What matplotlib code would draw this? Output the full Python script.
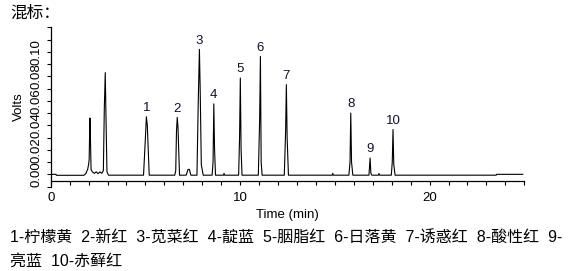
import matplotlib
matplotlib.use("Agg")
import matplotlib.pyplot as plt
from matplotlib.ticker import MultipleLocator, FixedLocator

plt.rcParams['font.family'] = ['Liberation Sans', 'Noto Sans CJK SC', 'DejaVu Sans']

# Chromatogram trace (time in min, signal in volts)
time_min = [0.0, 0.28, 0.30, 1.75, 1.85, 1.95, 2.00, 2.03, 2.07, 2.10, 2.13, 2.20, 2.30, 2.40,
            2.50, 2.60, 2.70, 2.78, 2.83, 2.88, 2.92, 2.97, 3.05,
            4.90, 5.00, 5.05, 5.10, 5.20,
            6.55, 6.60, 6.64, 6.68, 6.72, 6.80,
            7.15, 7.25, 7.32, 7.40,
            7.72, 7.79, 7.85, 7.89, 7.95, 8.05,
            8.52, 8.57, 8.61, 8.65, 8.70,
            9.12, 9.15, 9.18,
            9.92, 9.97, 10.01, 10.05, 10.10,
            10.96, 11.03, 11.07, 11.11, 11.16,
            12.33, 12.40, 12.44, 12.48, 12.55,
            14.86, 14.89, 14.92,
            15.74, 15.80, 15.84, 15.88, 15.95,
            16.80, 16.86, 16.90, 16.95,
            17.30, 17.33, 17.36,
            17.98, 18.03, 18.07, 18.11, 18.18,
            23.52, 23.53, 24.92]
volts = [0.0, 0.0, -0.0008, -0.0008, 0.0005, 0.004, 0.008, 0.012, 0.046, 0.028, 0.004, 0.002, 0.0008, 0.002,
         0.0006, 0.002, 0.0008, 0.003, 0.054, 0.083, 0.045, 0.002, -0.0007,
         -0.0007, 0.030, 0.047, 0.040, -0.0007,
         -0.0007, 0.003, 0.035, 0.0465, 0.038, -0.0007,
         -0.0007, 0.004, 0.004, -0.0007,
         -0.0007, 0.060, 0.102, 0.070, 0.008, -0.0007,
         -0.0007, 0.010, 0.0575, 0.020, -0.0007,
         -0.0007, 0.0008, -0.0007,
         -0.0007, 0.030, 0.0786, 0.020, -0.0007,
         -0.0007, 0.045, 0.0962, 0.010, -0.0007,
         -0.0007, 0.035, 0.0732, 0.030, -0.0007,
         -0.0007, 0.0008, -0.0007,
         -0.0007, 0.010, 0.050, 0.010, -0.0007,
         -0.0007, 0.0133, 0.001, -0.0007,
         -0.0007, 0.0007, -0.0007,
         -0.0007, 0.010, 0.0366, 0.008, -0.0007,
         -0.0007, 0.0, 0.0]

# Labelled peaks
peak_labels = ['1', '2', '3', '4', '5', '6', '7', '8', '9', '10']
peak_times = [5.05, 6.68, 7.85, 8.61, 10.01, 11.07, 12.44, 15.84, 16.86, 18.07]
peak_heights = [0.047, 0.0465, 0.102, 0.0575, 0.0786, 0.0962, 0.0732, 0.050, 0.0133, 0.0366]

y_ticks = [0.00, 0.02, 0.04, 0.06, 0.08, 0.10]
y_tick_labels = ['0.00', '0.02', '0.04', '0.06', '0.08', '0.10']
x_ticks = [0, 10, 20]
x_tick_labels = ['0', '10', '20']

title_text = '混标：'
caption_line1 = '1-柠檬黄  2-新红  3-苋菜红  4-靛蓝  5-胭脂红  6-日落黄  7-诱惑红  8-酸性红  9-'
caption_line2 = '亮蓝  10-赤藓红'

W, H = 574, 271
fig = plt.figure(figsize=(W / 100, H / 100), dpi=100)
left, right, top, bottom = 50.7, 524.3, 27.3, 186.7
ax = fig.add_axes([left / W, 1 - bottom / H, (right - left) / W, (bottom - top) / H])

ax.plot(time_min, volts, color='black', lw=0.8)

ax.set_xlim(0, 25)
ax.set_ylim(-0.0101, 0.12)

for s in ['top', 'right']:
    ax.spines[s].set_visible(False)
ax.spines['bottom'].set_position(('data', -0.0052))
for s in ['left', 'bottom']:
    ax.spines[s].set_linewidth(0.9)
    ax.spines[s].set_color('black')

ax.xaxis.set_major_locator(FixedLocator(x_ticks))
ax.set_xticklabels(x_tick_labels)
ax.xaxis.set_minor_locator(MultipleLocator(1))
ax.tick_params(axis='x', which='both', direction='out', length=3.0, width=0.8,
               labelsize=9.5, pad=5)

ax.yaxis.set_minor_locator(MultipleLocator(0.01))
ax.set_yticks(y_ticks)
ax.set_yticklabels(y_tick_labels, rotation=90, va='center')
ax.tick_params(axis='y', which='both', direction='out', length=2.8, width=0.8,
               labelsize=9.5, pad=3)

ax.set_xlabel('Time (min)', fontsize=9.5, labelpad=4)
ax.set_ylabel('Volts', fontsize=9.5, labelpad=4)

for lab, t, h in zip(peak_labels, peak_times, peak_heights):
    ax.annotate(lab, (t, h), xytext=(0, 2), textcoords='offset points',
                ha='center', va='bottom', fontsize=9.5, color='#10102a')

fig.text(10 / W, 1 - 13 / H, title_text, fontsize=12, va='center', ha='left',
         family=['Noto Sans CJK SC', 'DejaVu Sans'])
fig.text(10 / W, 1 - 238 / H, caption_line1, fontsize=11.5, va='center', ha='left')
fig.text(10 / W, 1 - 261 / H, caption_line2, fontsize=11.5, va='center', ha='left')

fig.savefig('out.png', dpi=100)
